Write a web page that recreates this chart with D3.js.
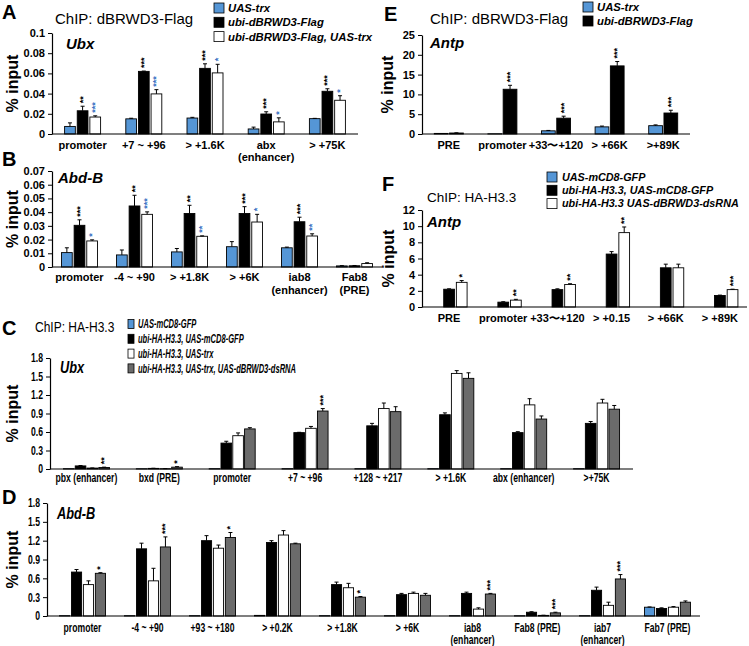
<!DOCTYPE html>
<html><head><meta charset="utf-8">
<script src="https://cdn.jsdelivr.net/npm/d3@7"></script>
<style>body{margin:0;background:#fff}svg{display:block}</style>
</head><body><svg id="c" width="749" height="646"></svg>
<script>
// ---------- DATA ----------
// Panel A: ChIP dBRWD3-Flag, Ubx
const catsA = ["promoter","+7 ~ +96","> +1.6K","abx\n(enhancer)","> +75K"];
const seriesA = ["UAS-trx","ubi-dBRWD3-Flag","ubi-dBRWD3-Flag, UAS-trx"];
const valsA_trx = [0.0075,0.015,0.0158,0.005,0.0152];
const errA_trx = [0.0035,0.0006,0.0007,0.0018,0.0003];
const valsA_flag = [0.023,0.062,0.065,0.0198,0.0423];
const errA_flag = [0.0045,0.0003,0.0045,0.0022,0.0025];
const valsA_flagTrx = [0.0168,0.0397,0.0605,0.012,0.0334];
const errA_flagTrx = [0.0012,0.0042,0.0085,0.004,0.0045];
const starsA_flag = ["**","***","***","***","***"];
const starsA_flagTrx = ["***","***","*","*","*"];
const ticksA = [0,0.02,0.04,0.06,0.08,0.1];

// Panel B: ChIP dBRWD3-Flag, Abd-B
const catsB = ["promoter","-4 ~ +90","> +1.8K","> +6K","iab8\n(enhancer)","Fab8\n(PRE)"];
const valsB_trx = [0.0105,0.0088,0.011,0.0148,0.014,0.0008];
const errB_trx = [0.0035,0.0036,0.0025,0.0037,0.0005,0.0002];
const valsB_flag = [0.0304,0.0445,0.039,0.039,0.033,0.0009];
const errB_flag = [0.004,0.0078,0.006,0.005,0.0033,0.0002];
const valsB_flagTrx = [0.019,0.0384,0.0224,0.0328,0.0226,0.0025];
const errB_flagTrx = [0.0008,0.0018,0.0003,0.0056,0.0016,0.0006];
const starsB_flag = ["***","**","**","***","***",""];
const starsB_flagTrx = ["*","***","**","*","**",""];
const ticksB = [0,0.01,0.02,0.03,0.04,0.05,0.06,0.07];

// Panel C: ChIP HA-H3.3, Ubx
const catsC = ["pbx (enhancer)","bxd (PRE)","promoter","+7 ~ +96","+128 ~ +217","> +1.6K","abx (enhancer)",">+75K"];
const seriesCD = ["UAS-mCD8-GFP","ubi-HA-H3.3, UAS-mCD8-GFP","ubi-HA-H3.3, UAS-trx","ubi-HA-H3.3, UAS-trx, UAS-dBRWD3-dsRNA"];
const valsC_gfp = [0.005,0.004,0.005,0.005,0.005,0.005,0.005,0.005];
const valsC_h33 = [0.05,0.01,0.42,0.59,0.70,0.88,0.59,0.74];
const errC_h33 = [0.006,0.002,0.03,0.005,0.04,0.03,0.015,0.03];
const valsC_trx = [0.015,0.005,0.54,0.66,0.98,1.55,1.04,1.07];
const errC_trx = [0.002,0.001,0.045,0.03,0.09,0.045,0.1,0.06];
const valsC_rnai = [0.025,0.03,0.65,0.94,0.93,1.47,0.81,0.97];
const errC_rnai = [0.005,0.008,0.02,0.04,0.08,0.09,0.05,0.06];
const starsC_rnai = ["**","*","","***","","","",""];
const ticksCD = [0,0.3,0.6,0.9,1.2,1.5,1.8];

// Panel D: ChIP HA-H3.3, Abd-B
const catsD = ["promoter","-4 ~ +90","+93 ~ +180","> +0.2K","> +1.8K","> +6K","iab8\n(enhancer)","Fab8 (PRE)","iab7\n(enhancer)","Fab7 (PRE)"];
const valsD_gfp = [0.005,0.005,0.005,0.01,0.005,0.005,0.005,0.004,0.005,0.14];
const errD_gfp = [0,0,0,0,0,0,0,0,0,0.004];
const valsD_h33 = [0.70,1.07,1.20,1.17,0.50,0.34,0.36,0.06,0.41,0.12];
const errD_h33 = [0.04,0.09,0.08,0.03,0.04,0.02,0.02,0.008,0.05,0.01];
const valsD_trx = [0.50,0.56,1.08,1.29,0.45,0.36,0.11,0.01,0.17,0.14];
const errD_trx = [0.06,0.2,0.05,0.07,0.07,0.02,0.02,0.002,0.05,0.01];
const valsD_rnai = [0.68,1.10,1.25,1.15,0.30,0.33,0.35,0.05,0.59,0.22];
const errD_rnai = [0.01,0.16,0.08,0.01,0.01,0.03,0.01,0.01,0.07,0.02];
const starsD_rnai = ["*","***","*","","*","","***","***","***",""];

// Panel E: ChIP dBRWD3-Flag, Antp
const catsE = ["PRE","promoter","+33\u301c+120","> +66K",">+89K"];
const seriesE = ["UAS-trx","ubi-dBRWD3-Flag"];
const valsE_trx = [0.15,0.05,0.8,1.8,2.1];
const errE_trx = [0,0,0.1,0.2,0.2];
const valsE_flag = [0.25,11.3,4.0,17.2,5.3];
const errE_flag = [0.05,1.0,0.5,1.1,0.7];
const starsE_flag = ["","***","***","***","***"];
const ticksE = [0,5,10,15,20,25];

// Panel F: ChIP HA-H3.3, Antp
const catsF = ["PRE","promoter","+33\u301c+120","> +0.15","> +66K","> +89K"];
const seriesF = ["UAS-mCD8-GFP","ubi-HA-H3.3, UAS-mCD8-GFP","ubi-HA-H3.3 UAS-dBRWD3-dsRNA"];
const valsF_gfp = [0,0,0,0,0,0];
const valsF_h33 = [2.2,0.6,2.15,6.55,4.85,1.42];
const errF_h33 = [0.05,0.05,0.1,0.3,0.45,0.05];
const valsF_rnai = [3.05,0.85,2.78,9.2,4.85,2.15];
const errF_rnai = [0.22,0.1,0.1,0.7,0.45,0.05];
const starsF_rnai = ["*","**","**","**","","***"];
const ticksF = [0,2,4,6,8,10,12];

// ---------- STYLE ----------
const BLUE = "#5596d6", BLACK = "#000", WHITE = "#fff", GREY = "#6b6b6b", STARBLUE = "#3f74c4";
const SANS = "'Liberation Sans', Arial, Helvetica, sans-serif";
const NARROW = "'Liberation Sans Narrow', 'Arial Narrow', 'Liberation Sans', sans-serif";
const NSX = 0.72; // horizontal condensing for narrow text
const svg = d3.select("#c");

function text(x, y, s, o = {}) {
  const sx = o.sx || 1;
  return svg.append("text").attr("transform", `translate(${x},${y}) scale(${sx},1)`).text(s)
    .attr("font-family", o.family || SANS).attr("font-size", o.size || 12)
    .attr("font-weight", o.weight || "normal").attr("font-style", o.style || "normal")
    .attr("fill", o.fill || "#000").attr("text-anchor", o.anchor || "start");
}

function panel(cfg) {
  const g = svg.append("g");
  const sx = cfg.sx || 1;
  const y = d3.scaleLinear().domain([0, cfg.max]).range([cfg.y0, cfg.y1]);
  const x = d3.scaleBand().domain(cfg.cats).range(cfg.xr);
  const xs = d3.scaleBand().domain(cfg.series.map(s => s.name))
    .range([-cfg.gw / 2, cfg.gw / 2]).paddingInner(cfg.pad);
  // y axis
  const ya = g.append("g").attr("transform", `translate(${cfg.axisX},0)`)
    .call(d3.axisLeft(y).tickValues(cfg.ticks).tickFormat(cfg.fmt).tickSize(4).tickSizeOuter(0).tickPadding(3));
  ya.select(".domain").attr("stroke", "#000").attr("stroke-width", 1.2);
  ya.selectAll(".tick line").attr("stroke", "#000");
  ya.selectAll(".tick text").attr("font-family", cfg.family).attr("font-size", cfg.tickSize)
    .attr("font-weight", cfg.tickWeight).attr("fill", "#000")
    .attr("x", -7 / sx).attr("transform", `scale(${sx},1)`);
  // bars
  cfg.series.forEach(s => {
    cfg.cats.forEach((c, i) => {
      const v = s.vals[i];
      const bx = x(c) + x.bandwidth() / 2 + xs(s.name);
      const cx = bx + xs.bandwidth() / 2;
      if (v > 0) {
        g.append("rect").attr("x", bx).attr("y", y(v)).attr("width", xs.bandwidth())
          .attr("height", y(0) - y(v)).attr("fill", s.color)
          .attr("stroke", "#000").attr("stroke-width", 0.9);
      }
      const e = s.errs ? s.errs[i] : 0;
      if (e > 0) {
        g.append("line").attr("x1", cx).attr("x2", cx).attr("y1", y(v)).attr("y2", y(v + e))
          .attr("stroke", "#000").attr("stroke-width", 1);
        g.append("line").attr("x1", cx - 2).attr("x2", cx + 2).attr("y1", y(v + e)).attr("y2", y(v + e))
          .attr("stroke", "#000").attr("stroke-width", 1);
      }
      const st = s.stars ? s.stars[i] : "";
      if (st) {
        const ty = y(v + e) - 3;
        g.append("text").attr("transform", `translate(${cx + 3},${ty}) rotate(-90)`)
          .text(st).attr("font-family", SANS).attr("font-size", 9).attr("font-weight", "bold")
          .attr("fill", s.starColor || "#000");
      }
    });
  });
  // baseline
  g.append("line").attr("x1", cfg.axisX).attr("x2", cfg.xr[1]).attr("y1", y(0)).attr("y2", y(0))
    .attr("stroke", "#000").attr("stroke-width", 1.2);
  // x labels via axis
  const xa = g.append("g").attr("transform", `translate(0,${cfg.y0})`)
    .call(d3.axisBottom(x).tickSize(0).tickPadding(0));
  xa.select(".domain").remove();
  xa.selectAll(".tick text").each(function (d) {
    const t = d3.select(this);
    t.text(null).attr("y", 0).attr("dy", null).attr("transform", `scale(${sx},1)`)
      .attr("font-family", cfg.family).attr("font-size", cfg.labelSize)
      .attr("font-weight", cfg.labelWeight).attr("fill", "#000");
    d.split("\n").forEach((line, k) => {
      t.append("tspan").attr("x", 0).attr("y", cfg.labelOff + k * cfg.lineH).text(line);
    });
  });
  // gene name
  text(cfg.geneX, cfg.geneY, cfg.gene, { size: cfg.geneSize, weight: "bold", style: "italic", family: cfg.family, sx: cfg.geneSx || 1 });
  // y label
  svg.append("text").attr("transform", `translate(${cfg.ylabX},${(cfg.y0 + cfg.y1) / 2}) rotate(-90)`)
    .attr("text-anchor", "middle").attr("font-family", SANS).attr("font-size", 16)
    .attr("font-weight", "bold").text("% input");
}

function legend(x, y0, dy, items, o) {
  items.forEach((it, i) => {
    const yy = y0 + i * dy;
    svg.append("rect").attr("x", x).attr("y", yy - o.bh / 2).attr("width", o.bw).attr("height", o.bh)
      .attr("fill", it.color).attr("stroke", "#000").attr("stroke-width", 0.8);
    text(x + o.bw + o.gap, yy + o.size * 0.36, it.name,
      { size: o.size, weight: o.weight, style: "italic", family: o.family, sx: o.sx || 1 });
  });
}

const fmtGen = d => d === 0 ? "0" : String(d);
const fmtCD = d => d === 0 ? "0" : d.toFixed(1);

// ---------- PANEL A ----------
text(2, 19, "A", { size: 20, weight: "bold" });
text(55, 24, "ChIP: dBRWD3-Flag", { size: 15 });
legend(214, 8, 14.3, [
  { name: seriesA[0], color: BLUE }, { name: seriesA[1], color: BLACK }, { name: seriesA[2], color: WHITE }],
  { bw: 10, bh: 10, gap: 4, size: 11.3, weight: "bold", family: SANS });
panel({
  cats: catsA, max: 0.1, ticks: ticksA, fmt: fmtGen, y0: 134, y1: 33, xr: [52, 358], axisX: 52,
  gw: 36, pad: 0.15, family: SANS, tickSize: 11, tickWeight: "bold", labelSize: 11, labelWeight: "bold",
  labelOff: 15, lineH: 12, gene: "Ubx", geneX: 66, geneY: 49, geneSize: 15, ylabX: 18,
  series: [
    { name: seriesA[0], color: BLUE, vals: valsA_trx, errs: errA_trx },
    { name: seriesA[1], color: BLACK, vals: valsA_flag, errs: errA_flag, stars: starsA_flag },
    { name: seriesA[2], color: WHITE, vals: valsA_flagTrx, errs: errA_flagTrx, stars: starsA_flagTrx, starColor: STARBLUE }]
});

// ---------- PANEL B ----------
text(2, 166, "B", { size: 20, weight: "bold" });
panel({
  cats: catsB, max: 0.07, ticks: ticksB, fmt: fmtGen, y0: 267, y1: 171, xr: [52, 382], axisX: 52,
  gw: 36, pad: 0.15, family: SANS, tickSize: 11, tickWeight: "bold", labelSize: 11, labelWeight: "bold",
  labelOff: 14, lineH: 13, gene: "Abd-B", geneX: 58, geneY: 183, geneSize: 15, ylabX: 18,
  series: [
    { name: seriesA[0], color: BLUE, vals: valsB_trx, errs: errB_trx },
    { name: seriesA[1], color: BLACK, vals: valsB_flag, errs: errB_flag, stars: starsB_flag },
    { name: seriesA[2], color: WHITE, vals: valsB_flagTrx, errs: errB_flagTrx, stars: starsB_flagTrx, starColor: STARBLUE }]
});

// ---------- PANEL E ----------
text(384, 21, "E", { size: 20, weight: "bold" });
text(430, 24, "ChIP: dBRWD3-Flag", { size: 15 });
legend(583, 7, 14, [
  { name: seriesE[0], color: BLUE }, { name: seriesE[1], color: BLACK }],
  { bw: 10, bh: 10, gap: 4, size: 11.3, weight: "bold", family: SANS });
panel({
  cats: catsE, max: 25, ticks: ticksE, fmt: fmtGen, y0: 134, y1: 35, xr: [422, 690], axisX: 422,
  gw: 29, pad: 0.1, family: SANS, tickSize: 11, tickWeight: "bold", labelSize: 11, labelWeight: "bold",
  labelOff: 15, lineH: 12, gene: "Antp", geneX: 430, geneY: 48, geneSize: 15, ylabX: 393,
  series: [
    { name: seriesE[0], color: BLUE, vals: valsE_trx, errs: errE_trx },
    { name: seriesE[1], color: BLACK, vals: valsE_flag, errs: errE_flag, stars: starsE_flag }]
});

// ---------- PANEL F ----------
text(382, 191, "F", { size: 20, weight: "bold" });
text(427, 202, "ChIP: HA-H3.3", { size: 13.5 });
legend(547, 177, 13.3, [
  { name: seriesF[0], color: BLUE }, { name: seriesF[1], color: BLACK }, { name: seriesF[2], color: WHITE }],
  { bw: 10, bh: 10, gap: 5, size: 10.8, weight: "bold", family: SANS });
panel({
  cats: catsF, max: 12, ticks: ticksF, fmt: fmtGen, y0: 307, y1: 210, xr: [422, 747], axisX: 422,
  gw: 36, pad: 0.15, family: SANS, tickSize: 11, tickWeight: "bold", labelSize: 11, labelWeight: "bold",
  labelOff: 15, lineH: 12, gene: "Antp", geneX: 427, geneY: 227, geneSize: 15, ylabX: 394,
  series: [
    { name: seriesF[0], color: BLUE, vals: valsF_gfp },
    { name: seriesF[1], color: BLACK, vals: valsF_h33, errs: errF_h33 },
    { name: seriesF[2], color: WHITE, vals: valsF_rnai, errs: errF_rnai, stars: starsF_rnai }]
});

// ---------- PANEL C ----------
text(2, 335, "C", { size: 20, weight: "bold" });
text(35, 332, "ChIP: HA-H3.3", { size: 15, family: NARROW, sx: 0.8 });
legend(128, 324, 14.8, [
  { name: seriesCD[0], color: BLUE }, { name: seriesCD[1], color: BLACK },
  { name: seriesCD[2], color: WHITE }, { name: seriesCD[3], color: GREY }],
  { bw: 6, bh: 9, gap: 4, size: 12, weight: "bold", family: NARROW, sx: 0.63 });
panel({
  cats: catsC, max: 1.8, ticks: ticksCD, fmt: fmtCD, y0: 469, y1: 358, xr: [50, 633], axisX: 50,
  gw: 46, pad: 0.1, family: NARROW, tickSize: 12, tickWeight: "bold", labelSize: 12, labelWeight: "bold",
  labelOff: 13, lineH: 12, gene: "Ubx", geneX: 60, geneY: 373, geneSize: 16, geneSx: 0.8, ylabX: 18, sx: NSX,
  series: [
    { name: seriesCD[0], color: BLUE, vals: valsC_gfp },
    { name: seriesCD[1], color: BLACK, vals: valsC_h33, errs: errC_h33 },
    { name: seriesCD[2], color: WHITE, vals: valsC_trx, errs: errC_trx },
    { name: seriesCD[3], color: GREY, vals: valsC_rnai, errs: errC_rnai, stars: starsC_rnai }]
});

// ---------- PANEL D ----------
text(2, 504, "D", { size: 20, weight: "bold" });
panel({
  cats: catsD, max: 1.8, ticks: ticksCD, fmt: fmtCD, y0: 616, y1: 503, xr: [50, 700], axisX: 47,
  gw: 46, pad: 0.15, family: NARROW, tickSize: 12, tickWeight: "bold", labelSize: 12, labelWeight: "bold",
  labelOff: 16, lineH: 12, gene: "Abd-B", geneX: 57, geneY: 519, geneSize: 16, geneSx: 0.8, ylabX: 18, sx: NSX,
  series: [
    { name: seriesCD[0], color: BLUE, vals: valsD_gfp, errs: errD_gfp },
    { name: seriesCD[1], color: BLACK, vals: valsD_h33, errs: errD_h33 },
    { name: seriesCD[2], color: WHITE, vals: valsD_trx, errs: errD_trx },
    { name: seriesCD[3], color: GREY, vals: valsD_rnai, errs: errD_rnai, stars: starsD_rnai }]
});
</script></body></html>
